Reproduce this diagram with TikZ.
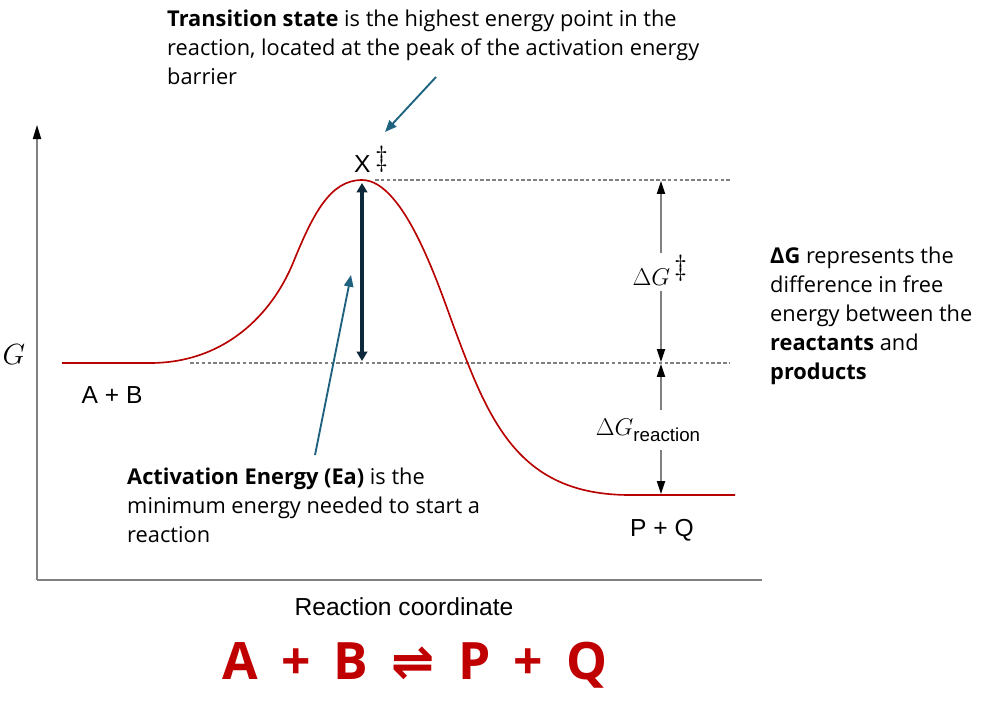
\documentclass[tikz,border=0pt]{standalone}
\usepackage{fontspec}
\setmainfont{Open Sans}
\newfontfamily\chartfont{Liberation Sans}
\newfontfamily\arrowfont{DejaVu Sans}
\usepackage{amsmath}
\usepackage{graphicx}
\usepackage{tikz}
\usetikzlibrary{arrows.meta, positioning, calc}
\definecolor{curvered}{RGB}{185, 0, 0}
\definecolor{eqred}{RGB}{192, 0, 0}
\definecolor{pointerteal}{RGB}{30, 98, 128}
\definecolor{eanavy}{RGB}{12, 40, 58}
\definecolor{axisgray}{RGB}{128, 128, 128}

\begin{document}
\begin{tikzpicture}[x=0.03cm, y=-0.03cm,
  note/.style={anchor=west, align=left, inner sep=0pt, font=\fontsize{18.6}{24.7}\selectfont},
  chartlbl/.style={inner sep=0pt, font=\chartfont\fontsize{21}{24}\selectfont},
  symlbl/.style={inner sep=0pt, font=\fontsize{21}{24}\selectfont},
  guide/.style={axisgray, densely dashed, line width=0.9pt},
  pointer/.style={pointerteal, line width=1.6pt, -{Triangle[length=10pt,width=8pt]}},
  gaparrow/.style={axisgray, line width=1.1pt, -{Triangle[length=11pt,width=7pt,color=black]}}]
  \useasboundingbox (0,0) rectangle (988,702);

  % axes
  \coordinate (origin) at (37,580);
  \coordinate (ytop) at (37,125);
  \coordinate (xend) at (762,580);
  \draw[axisgray, line width=1.2pt, -{Triangle[length=12pt,width=7pt,color=black]}] (origin) -- (ytop);
  \draw[axisgray, line width=1.2pt] (origin) -- (xend);
  \node[symlbl, font=\fontsize{23}{24}\selectfont] (glbl) at (14,355) {$G$};
  \node[chartlbl] (xlbl) at (404,607) {Reaction coordinate};

  % energy levels
  \coordinate (tsleft) at (375,180);
  \coordinate (tsright) at (730,180);
  \coordinate (reactleft) at (190,363);
  \coordinate (reactright) at (730,363);
  \draw[guide] (tsleft) -- (tsright);
  \draw[guide] (reactleft) -- (reactright);

  % reaction profile
  \draw[curvered, line width=1.4pt] (62,363) -- (150,363)
    .. controls (225,363) and (272,314) .. (293,263)
    .. controls (313,214) and (330,180) .. (362,180)
    .. controls (405,180) and (440,290) .. (455,330)
    .. controls (490,424) and (520,495) .. (630,495) -- (735,495);

  \node[chartlbl] (reactants) at (112,395) {A + B};
  \node[chartlbl] (products) at (662,530) {P + Q};
  \node[chartlbl, anchor=south west] (tslbl) at (354,173)
    {X\hspace{0.2em}\raisebox{0.5ex}{\fontsize{23}{24}\selectfont$\ddagger$}};

  % activation energy
  \coordinate (eatop) at (362,183);
  \coordinate (eabot) at (362,361);
  \draw[eanavy, line width=3.6pt, {Triangle[length=8pt,width=9pt]}-{Triangle[length=8pt,width=9pt]}] (eatop) -- (eabot);

  % free energy gaps
  \node[symlbl] (dgts) at (660,270) {$\Delta G$\,\raisebox{0.75ex}{\fontsize{23}{24}\selectfont$\ddagger$}};
  \node[symlbl] (dgrxn) at (648,430) {$\Delta G$\raisebox{-0.45ex}{\chartfont\fontsize{16}{18}\selectfont reaction}};
  \coordinate (tsgap) at (661,181);
  \coordinate (reactgap) at (661,362);
  \coordinate (reactgaplow) at (661,364);
  \coordinate (prodgap) at (661,494);
  \draw[gaparrow] (dgts.north -| tsgap) ++(0,-2) -- (tsgap);
  \draw[gaparrow] (dgts.south -| tsgap) ++(0,6) -- (reactgap);
  \draw[gaparrow] (dgrxn.north -| tsgap) ++(0,-8) -- (reactgaplow);
  \draw[gaparrow] (dgrxn.south -| tsgap) ++(0,8) -- (prodgap);

  % notes
  \node[note] (tsnote) at (167,47) {\textbf{Transition state} is the highest energy point in the\\
    reaction, located at the peak of the activation energy\\
    barrier};
  \node[note] (eanote) at (127,505) {\textbf{Activation Energy (Ea)} is the\\
    minimum energy needed to start a\\
    reaction};
  \node[note] (dgnote) at (770,316) {\textbf{ΔG} represents the\\
    difference in free\\
    energy between the\\
    \textbf{reactants} and\\
    \textbf{products}};

  \coordinate (tsfrom) at (436,77);
  \coordinate (tsto) at (385,132);
  \draw[pointer] (tsfrom) -- (tsto);
  \coordinate (eafrom) at (315,455);
  \coordinate (eato) at (351,275);
  \draw[pointer] (eafrom) -- (eato);

  % overall equation
  \node[inner sep=0pt, text=eqred, font=\bfseries\fontsize{44}{50}\selectfont] (eqn) at (415,665)
    {A\hspace{0.45em}+\hspace{0.45em}B\hspace{0.45em}{\arrowfont\bfseries ⇌}\hspace{0.45em}P\hspace{0.45em}+\hspace{0.45em}Q};
\end{tikzpicture}
\end{document}
